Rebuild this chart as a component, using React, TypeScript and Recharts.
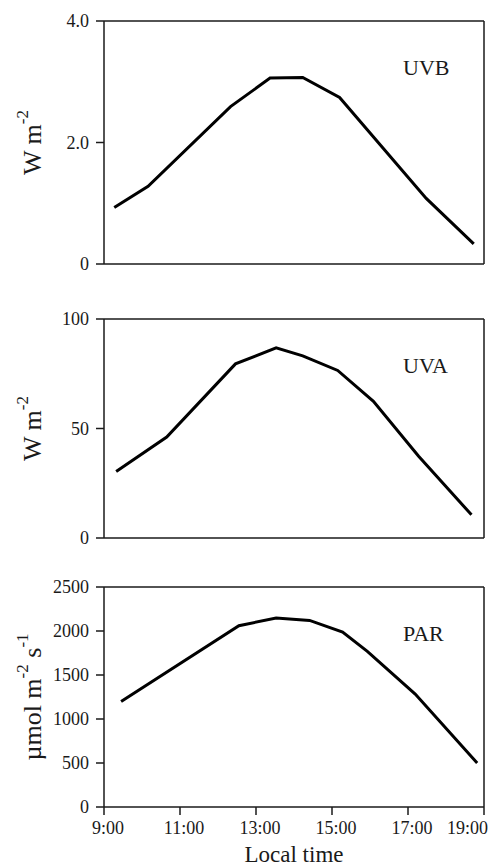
import React from "react";
import { LineChart, Line, XAxis, YAxis, ReferenceLine, Label } from "recharts";

// ---- data (hours, values) ----
const uvbTimes = [9.27, 10.16, 12.33, 13.37, 14.23, 15.2, 17.48, 18.73];
const uvbValues = [0.93, 1.28, 2.59, 3.06, 3.07, 2.74, 1.08, 0.33];

const uvaTimes = [9.32, 10.65, 12.46, 13.53, 14.23, 15.15, 16.09, 17.28, 18.67];
const uvaValues = [30.4, 46.1, 79.5, 86.8, 83.2, 76.5, 62.4, 37.3, 10.6];

const parTimes = [9.45, 12.55, 13.53, 14.41, 15.28, 15.93, 17.19, 18.82];
const parValues = [1200, 2060, 2148, 2120, 1989, 1768, 1284, 500];

const xTicks = [9, 11, 13, 15, 17, 19];
const uvbTicks = [0, 2, 4];
const uvaTicks = [0, 50, 100];
const parTicks = [0, 500, 1000, 1500, 2000, 2500];

const panelNames = ["UVB", "UVA", "PAR"];
const xAxisTitle = "Local time";

const FONT = "'Liberation Serif', 'Times New Roman', serif";
const INK = "#1a1a1a";

type Part = { text: string; sup?: boolean };

const build = (t: number[], v: number[]) => t.map((h, i) => ({ t: h, v: v[i] }));

const YTitle = (props: any) => {
  const { viewBox, parts } = props;
  const cx = 32;
  const cy = viewBox.y + viewBox.height / 2;
  let prevSup = false;
  return (
    <text
      x={cx}
      y={cy}
      transform={`rotate(-90, ${cx}, ${cy})`}
      textAnchor="middle"
      dominantBaseline="central"
      fontFamily={FONT}
      fill={INK}
    >
      {parts.map((p: Part, i: number) => {
        let dy = 0;
        if (p.sup && !prevSup) dy = -10;
        else if (!p.sup && prevSup) dy = 10;
        prevSup = !!p.sup;
        return (
          <tspan key={i} fontSize={p.sup ? 17 : 26} dy={dy}>
            {p.text}
          </tspan>
        );
      })}
    </text>
  );
};

const XTitle = (props: any) => {
  const { viewBox } = props;
  const cx = viewBox.x + viewBox.width / 2;
  return (
    <text x={cx} y={viewBox.y + 55} textAnchor="middle" fontFamily={FONT} fontSize={23} fill={INK}>
      {xAxisTitle}
    </text>
  );
};

const PanelName = (props: any) => {
  const { viewBox, name } = props;
  return (
    <text x={viewBox.x + 299} y={viewBox.y + 54} fontFamily={FONT} fontSize={22} fill={INK}>
      {name}
    </text>
  );
};

const XTick = (props: any) => {
  const { x, y, payload } = props;
  const last = payload.value === xTicks[xTicks.length - 1];
  return (
    <text
      x={x + 4}
      y={y}
      dy="0.71em"
      textAnchor={last ? "end" : "middle"}
      fontFamily={FONT}
      fontSize={18}
      fill={INK}
    >
      {`${payload.value}:00`}
    </text>
  );
};

const tickStyle = { fontFamily: FONT, fontSize: 18, fill: INK };
const axisLine = { stroke: INK, strokeWidth: 1.5 };

type PanelProps = {
  top: number;
  height: number;
  margin: { top: number; right: number; left: number; bottom: number };
  xHeight: number;
  data: { t: number; v: number }[];
  yMax: number;
  yTicks: number[];
  yFmt: (v: number) => string;
  yParts: Part[];
  name: string;
  showX: boolean;
};

const Panel = (p: PanelProps) => (
  <div style={{ position: "absolute", left: 0, top: p.top }}>
    <LineChart width={491} height={p.height} data={p.data} margin={p.margin}>
      <XAxis
        type="number"
        dataKey="t"
        domain={[9, 19]}
        ticks={xTicks}
        interval={0}
        height={p.xHeight}
        tickSize={8}
        tickMargin={6}
        tick={p.showX ? <XTick /> : false}
        axisLine={axisLine}
        tickLine={axisLine}
      >
        {p.showX && <Label content={<XTitle />} />}
      </XAxis>
      <YAxis
        type="number"
        domain={[0, p.yMax]}
        ticks={p.yTicks}
        interval={0}
        width={60}
        tickSize={8}
        tickMargin={7}
        tick={tickStyle}
        tickFormatter={p.yFmt}
        axisLine={axisLine}
        tickLine={axisLine}
      >
        <Label content={<YTitle parts={p.yParts} />} />
      </YAxis>
      <ReferenceLine y={p.yMax} stroke={INK} strokeWidth={1.5}>
        <Label content={<PanelName name={p.name} />} />
      </ReferenceLine>
      <ReferenceLine x={19} stroke={INK} strokeWidth={1.5} />
      <Line
        type="linear"
        dataKey="v"
        stroke="#000"
        strokeWidth={3}
        dot={false}
        isAnimationActive={false}
      />
    </LineChart>
  </div>
);

export default function App() {
  return (
    <div style={{ position: "absolute", left: 0, top: 0, width: 491, height: 866, background: "#fff" }}>
      <Panel
        top={0}
        height={290}
        margin={{ top: 21, right: 7, left: 44, bottom: 6 }}
        xHeight={20}
        data={build(uvbTimes, uvbValues)}
        yMax={4}
        yTicks={uvbTicks}
        yFmt={(v) => (v === 0 ? "0" : v.toFixed(1))}
        yParts={[{ text: "W m" }, { text: "-2", sup: true }]}
        name={panelNames[0]}
        showX={false}
      />
      <Panel
        top={290}
        height={270}
        margin={{ top: 29, right: 7, left: 44, bottom: 6 }}
        xHeight={16}
        data={build(uvaTimes, uvaValues)}
        yMax={100}
        yTicks={uvaTicks}
        yFmt={(v) => String(v)}
        yParts={[{ text: "W m" }, { text: "-2", sup: true }]}
        name={panelNames[1]}
        showX={false}
      />
      <Panel
        top={560}
        height={306}
        margin={{ top: 27, right: 7, left: 44, bottom: 0 }}
        xHeight={59}
        data={build(parTimes, parValues)}
        yMax={2500}
        yTicks={parTicks}
        yFmt={(v) => String(v)}
        yParts={[
          { text: "\u00b5mol m" },
          { text: "-2", sup: true },
          { text: " s" },
          { text: "-1", sup: true },
        ]}
        name={panelNames[2]}
        showX={true}
      />
    </div>
  );
}
